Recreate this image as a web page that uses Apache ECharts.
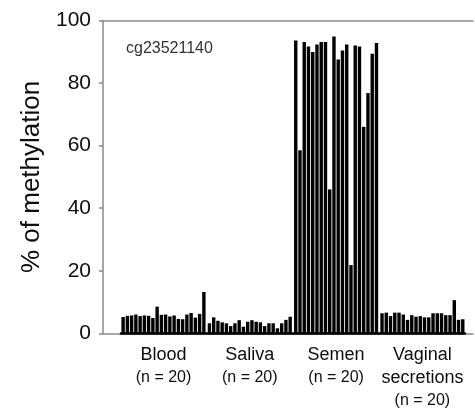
<!DOCTYPE html>
<html>
<head>
<meta charset="utf-8">
<script src="https://cdn.jsdelivr.net/npm/echarts@6/dist/echarts.min.js"></script>
<style>
  html, body { margin: 0; padding: 0; background: #fff; }
  #chart { width: 475px; height: 414px; }
</style>
</head>
<body>
<div id="chart"></div>
<script>
// CpG site shown in the panel
const markerName = 'cg23521140';

// Body-fluid groups and sample counts
const groupNames = ['Blood', 'Saliva', 'Semen', 'Vaginal\nsecretions'];
const groupCounts = [20, 20, 20, 20];

// % methylation per sample
const blood   = [5.2, 5.6, 5.7, 6.0, 5.5, 5.7, 5.6, 4.9, 8.5, 5.9, 6.0, 5.4, 5.7, 4.6, 4.5, 6.0, 6.5, 5.0, 6.2, 13.2];
const saliva  = [3.2, 5.1, 4.0, 3.5, 3.2, 2.3, 3.2, 4.2, 2.1, 3.7, 4.2, 3.7, 3.5, 2.3, 3.2, 3.2, 1.6, 3.2, 4.3, 5.3];
const semen   = [93.6, 58.5, 93.1, 91.7, 89.9, 92.3, 93.1, 93.1, 46.0, 94.9, 87.5, 90.4, 92.3, 21.8, 92.0, 91.7, 66.0, 76.8, 89.4, 92.8];
const vaginal = [6.4, 6.6, 5.5, 6.6, 6.6, 6.0, 4.3, 5.8, 5.3, 5.5, 5.1, 5.1, 6.4, 6.4, 6.4, 5.8, 5.8, 10.6, 4.3, 4.5];
const groupValues = [blood, saliva, semen, vaginal];

// Value axis
const yMin = 0, yMax = 100, yStep = 20;
const yAxisTitle = '% of methylation';

const FONT = '"Liberation Sans", Arial, Helvetica, sans-serif';
const TEXT = '#0d0d0d';
const AXIS_GREY = '#8a8a8a';
const PLOT_TOP = 20.5;
const PLOT_BOTTOM = 80.7;

// Layout: one frame grid with the value axis, then one narrow grid per group
const FRAME_LEFT = 103;
const GROUP_LEFT0 = 121;
const GROUP_PITCH = 86.3;
const GROUP_WIDTH = 85;

const grids = [{ left: FRAME_LEFT, right: 2, top: PLOT_TOP, bottom: PLOT_BOTTOM }];
const xAxes = [
  { gridIndex: 0, type: 'category', data: [], position: 'bottom',
    axisLine: { lineStyle: { color: AXIS_GREY, width: 1.5 } },
    axisTick: { show: false }, axisLabel: { show: false } },
  { gridIndex: 0, type: 'category', data: [], position: 'top',
    axisLine: { lineStyle: { color: AXIS_GREY, width: 1.5 } },
    axisTick: { show: false }, axisLabel: { show: false } }
];
const yAxes = [{
  gridIndex: 0, type: 'value', min: yMin, max: yMax, interval: yStep,
  axisLine: { show: true, lineStyle: { color: AXIS_GREY, width: 1.5 } },
  axisTick: { show: true, inside: false, length: 4, lineStyle: { color: AXIS_GREY, width: 1.5 } },
  axisLabel: { fontSize: 21, color: TEXT, fontFamily: FONT, margin: 12 },
  splitLine: { show: false },
  name: yAxisTitle, nameLocation: 'middle', nameGap: 57, nameRotate: 90,
  nameTextStyle: { fontSize: 26, color: TEXT, fontFamily: FONT }
}];
const series = [];

groupValues.forEach((vals, g) => {
  const gi = grids.length;
  const left = GROUP_LEFT0 + g * GROUP_PITCH;
  grids.push({ left: left, width: GROUP_WIDTH, top: PLOT_TOP, bottom: PLOT_BOTTOM });

  const barAxis = xAxes.length;
  xAxes.push({
    gridIndex: gi, type: 'category', data: vals.map((_, i) => String(i + 1)),
    axisLine: { lineStyle: { color: '#000', width: 2.5 } },
    axisTick: { show: false }, axisLabel: { show: false }
  });
  const lines = groupNames[g].split('\n').map(s => '{a|' + s + '}');
  lines.push('{b|(n = ' + groupCounts[g] + ')}');
  xAxes.push({
    gridIndex: gi, type: 'category', data: [groupNames[g]], position: 'bottom',
    axisLine: { show: false }, axisTick: { show: false },
    axisLabel: {
      margin: 10, interval: 0,
      formatter: () => lines.join('\n'),
      rich: {
        a: { fontSize: 18, lineHeight: 23, color: TEXT, fontFamily: FONT },
        b: { fontSize: 16, lineHeight: 22, color: TEXT, fontFamily: FONT }
      }
    }
  });
  const yi = yAxes.length;
  yAxes.push({ gridIndex: gi, type: 'value', min: yMin, max: yMax, show: false });

  series.push({
    type: 'bar', xAxisIndex: barAxis, yAxisIndex: yi, data: vals,
    barCategoryGap: '20%', itemStyle: { color: '#000' },
    silent: true, animation: false
  });
});

const chart = echarts.init(document.getElementById('chart'), null, { renderer: 'canvas' });
chart.setOption({
  backgroundColor: '#fff',
  animation: false,
  title: {
    text: markerName, left: 121, top: 36,
    textStyle: { fontSize: 16, fontWeight: 'normal', color: '#333', fontFamily: FONT }
  },
  grid: grids,
  xAxis: xAxes,
  yAxis: yAxes,
  series: series
});
</script>
</body>
</html>
